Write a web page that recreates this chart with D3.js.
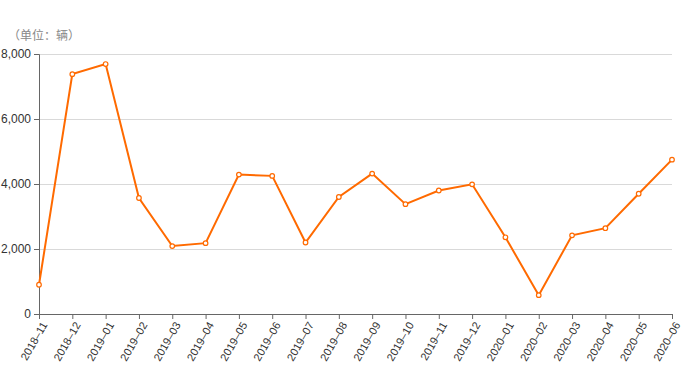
<!DOCTYPE html>
<html>
<head>
<meta charset="utf-8">
<script src="https://cdn.jsdelivr.net/npm/d3@7"></script>
<style>
  body { margin: 0; background: #fff; }
  svg { font-family: "Liberation Sans", "Noto Sans CJK SC", sans-serif; }
  .grid line { stroke: #d9d9d9; }
  .axis text { fill: #333; font-size: 12px; }
  .axis.x text { font-size: 11px; }
  .axis path, .axis line { stroke: #666; }
  .unit { fill: #888; font-size: 12px; }
</style>
</head>
<body>
<div id="chart"></div>
<script>
// months and sales (unit: vehicles)
const months = ["2018–11", "2018–12", "2019–01", "2019–02", "2019–03", "2019–04", "2019–05",
    "2019–06", "2019–07", "2019–08", "2019–09", "2019–10", "2019–11", "2019–12", "2020–01",
    "2020–02", "2020–03", "2020–04", "2020–05", "2020–06"]
const sales = [900, 7380, 7690, 3570, 2090, 2180, 4290, 4250, 2200, 3600, 4320, 3380, 3800,
    3990, 2360, 580, 2420, 2640, 3700, 4750]
const yTicks = [0, 2000, 4000, 6000, 8000]
const unitLabel = "（单位：辆）"

const width = 700
const height = 370
const margin = {top: 54, right: 28, bottom: 56, left: 39}

const $svg = d3.select("#chart").append("svg")
    .attr("width", width)
    .attr("height", height)

const xScale = d3.scalePoint()
    .domain(months)
    .range([margin.left, width - margin.right])

const yScale = d3.scaleLinear()
    .domain([0, 8000])
    .range([height - margin.bottom, margin.top])

//gridlines
$svg.append("g")
    .attr("class", "grid")
    .selectAll("line")
    .data(yTicks.filter(d => d > 0))
    .enter().append("line")
    .attr("x1", margin.left)
    .attr("x2", width - margin.right)
    .attr("y1", d => yScale(d) + 0.5)
    .attr("y2", d => yScale(d) + 0.5)

const yAxis = g => g.attr("transform", `translate(${margin.left}, 0)`)
    .call(d3.axisLeft(yScale).tickValues(yTicks).tickSize(5).tickPadding(3))
    .call(g => g.select(".domain").attr("stroke", "#bbb"))

$svg.append("g")
    .attr("class", "axis y")
    .call(yAxis)

const xAxis = g => g.attr("transform", `translate(0, ${height - margin.bottom})`)
    .call(d3.axisBottom(xScale).tickSize(5).tickSizeOuter(0))

$svg.append("g")
    .attr("class", "axis x")
    .call(xAxis)
    .selectAll("text")
    .attr("text-anchor", "end")
    .attr("dx", "-0.2em")
    .attr("dy", "0.6em")
    .attr("transform", "rotate(-60)")
    .attr("y", 6)
    .attr("x", -3)

$svg.append("text")
    .attr("class", "unit")
    .attr("x", 8)
    .attr("y", 40)
    .text(unitLabel)

const line = d3.line()
    .x((d, i) => xScale(months[i]))
    .y(d => yScale(d))

$svg.append("path")
    .datum(sales)
    .attr("fill", "none")
    .attr("stroke", "#ff6a00")
    .attr("stroke-width", 2)
    .attr("d", line)

$svg.selectAll(".dot")
    .data(sales)
    .enter().append("circle")
    .attr("class", "dot")
    .attr("cx", (d, i) => xScale(months[i]))
    .attr("cy", d => yScale(d))
    .attr("r", 2.3)
    .attr("fill", "#fff")
    .attr("stroke", "#ff6a00")
    .attr("stroke-width", 1.2)
</script>
</body>
</html>
